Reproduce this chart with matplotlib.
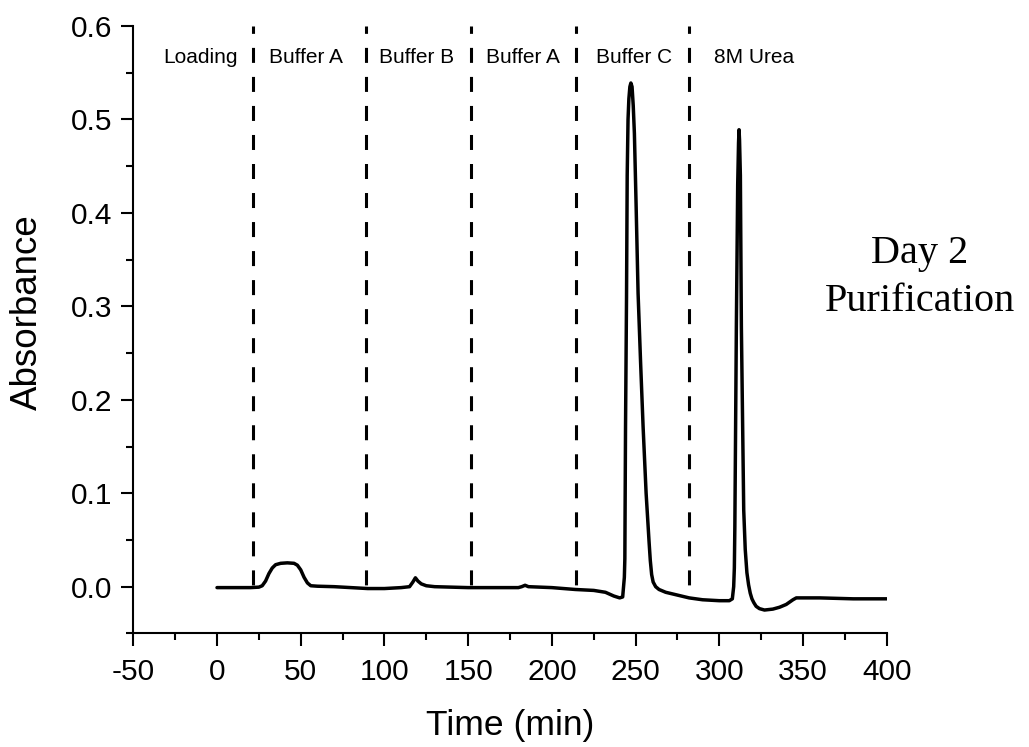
import matplotlib
matplotlib.use("Agg")
import matplotlib.pyplot as plt
from matplotlib.ticker import MultipleLocator, FormatStrFormatter

plt.rcParams['font.family'] = ['Liberation Sans', 'DejaVu Sans']
plt.rcParams['lines.scale_dashes'] = False
plt.rcParams['axes.unicode_minus'] = False

# Chromatogram trace
time_min = [0, 10, 20, 25, 27, 29, 31, 33, 35, 38, 42, 46, 48, 50, 52, 54, 56, 60,
            70, 80, 90, 100, 110, 115, 117, 118.5, 120, 122, 125, 130, 150, 170, 180,
            182, 184, 186, 200, 214, 225, 232, 237, 240.5, 242.3, 243.3, 243.6, 244.0,
            244.6, 245.0, 245.5, 246.0, 246.6, 247.2, 247.9, 248.6, 249.3, 250.3,
            251.5, 253.0, 254.5, 256.3, 258.1, 258.8, 259.6, 260.5, 262, 264, 268,
            275, 282, 290, 300, 306, 307.8, 308.6, 309.0, 309.3, 310.2, 311.0, 311.5,
            311.8, 312.1, 312.6, 313.2, 314.6, 315.5, 316.5, 317.5, 318.5, 319.5,
            320.6, 322, 324, 327, 332, 336, 340, 344, 346, 360, 380, 400]
absorbance = [-0.001, -0.001, -0.001, -0.0005, 0.001, 0.006, 0.014, 0.020, 0.0235,
              0.025, 0.0255, 0.025, 0.023, 0.018, 0.010, 0.004, 0.001, 0.0005,
              0.000, -0.001, -0.002, -0.002, -0.001, 0.000, 0.005, 0.0095, 0.006,
              0.003, 0.001, 0.000, -0.001, -0.001, -0.001,
              0.000, 0.0015, 0.000, -0.001, -0.003, -0.004, -0.006, -0.010, -0.012,
              -0.011, 0.010, 0.030, 0.170,
              0.310, 0.440, 0.500, 0.522, 0.535, 0.539, 0.535, 0.515, 0.485, 0.410,
              0.314, 0.240, 0.171, 0.100, 0.047, 0.028, 0.013, 0.005, 0.000, -0.003,
              -0.006, -0.009, -0.012, -0.014, -0.015, -0.015, -0.013, 0.000, 0.020,
              0.064, 0.278, 0.430, 0.475,
              0.489, 0.478, 0.440, 0.278, 0.082, 0.040, 0.015, 0.002, -0.007, -0.013,
              -0.017, -0.021, -0.0235, -0.025, -0.024, -0.022, -0.019, -0.014, -0.012,
              -0.012, -0.013, -0.013]

# Phase boundaries and labels
boundaries = [21.2, 89.0, 151.7, 214.3, 281.8]
phase_labels = ['Loading', 'Buffer A', 'Buffer B', 'Buffer A', 'Buffer C', '8M Urea']
phase_label_x = [-9.8, 53.2, 119.4, 182.6, 249.4, 320.9]

xticks = [-50, 0, 50, 100, 150, 200, 250, 300, 350, 400]
yticks = [0.0, 0.1, 0.2, 0.3, 0.4, 0.5, 0.6]

W, H = 1029, 747
fig = plt.figure(figsize=(W / 100, H / 100), dpi=100)
ax = fig.add_axes([133.3 / W, 1 - 633.4 / H, (886.7 - 133.3) / W, (633.4 - 26) / H])

ax.plot(time_min, absorbance, color='black', lw=2.5, solid_joinstyle='round',
        solid_capstyle='round')

for b in boundaries:
    ax.plot([b, b], [0.6, -0.002], color='black', lw=2.2,
            linestyle=(5.5, (10.8, 10.1)), solid_capstyle='butt')

for lab, lx in zip(phase_labels, phase_label_x):
    ax.text(lx, 0.560, lab, ha='center', va='baseline', fontsize=15)

ax.set_xlim(-50, 400)
ax.set_ylim(-0.05, 0.6)
ax.set_xticks(xticks)
ax.set_yticks(yticks)
ax.yaxis.set_major_formatter(FormatStrFormatter('%.1f'))
ax.xaxis.set_minor_locator(MultipleLocator(25))
ax.yaxis.set_minor_locator(MultipleLocator(0.05))

for s in ['top', 'right']:
    ax.spines[s].set_visible(False)
for s in ['left', 'bottom']:
    ax.spines[s].set_linewidth(1.5)

ax.tick_params(which='major', direction='out', length=9, width=1.5, labelsize=21.5)
ax.tick_params(which='minor', direction='out', length=4.8, width=1.5)
ax.tick_params(axis='x', which='major', pad=9)
ax.tick_params(axis='y', which='major', pad=6)

fig.text(510 / W, 1 - 735 / H, 'Time (min)', ha='center', va='baseline', fontsize=25.5)
fig.text(27.5 / W, 1 - 312 / H, 'Absorbance', ha='center', va='center',
         rotation=90, fontsize=26.5)

fig.text(920 / W, 1 - 263 / H, 'Day 2', ha='center', va='baseline', fontsize=29,
         family=['Liberation Serif', 'DejaVu Serif'])
fig.text(920 / W, 1 - 311 / H, 'Purification', ha='center', va='baseline', fontsize=29,
         family=['Liberation Serif', 'DejaVu Serif'])

fig.savefig('out.png', dpi=100)
